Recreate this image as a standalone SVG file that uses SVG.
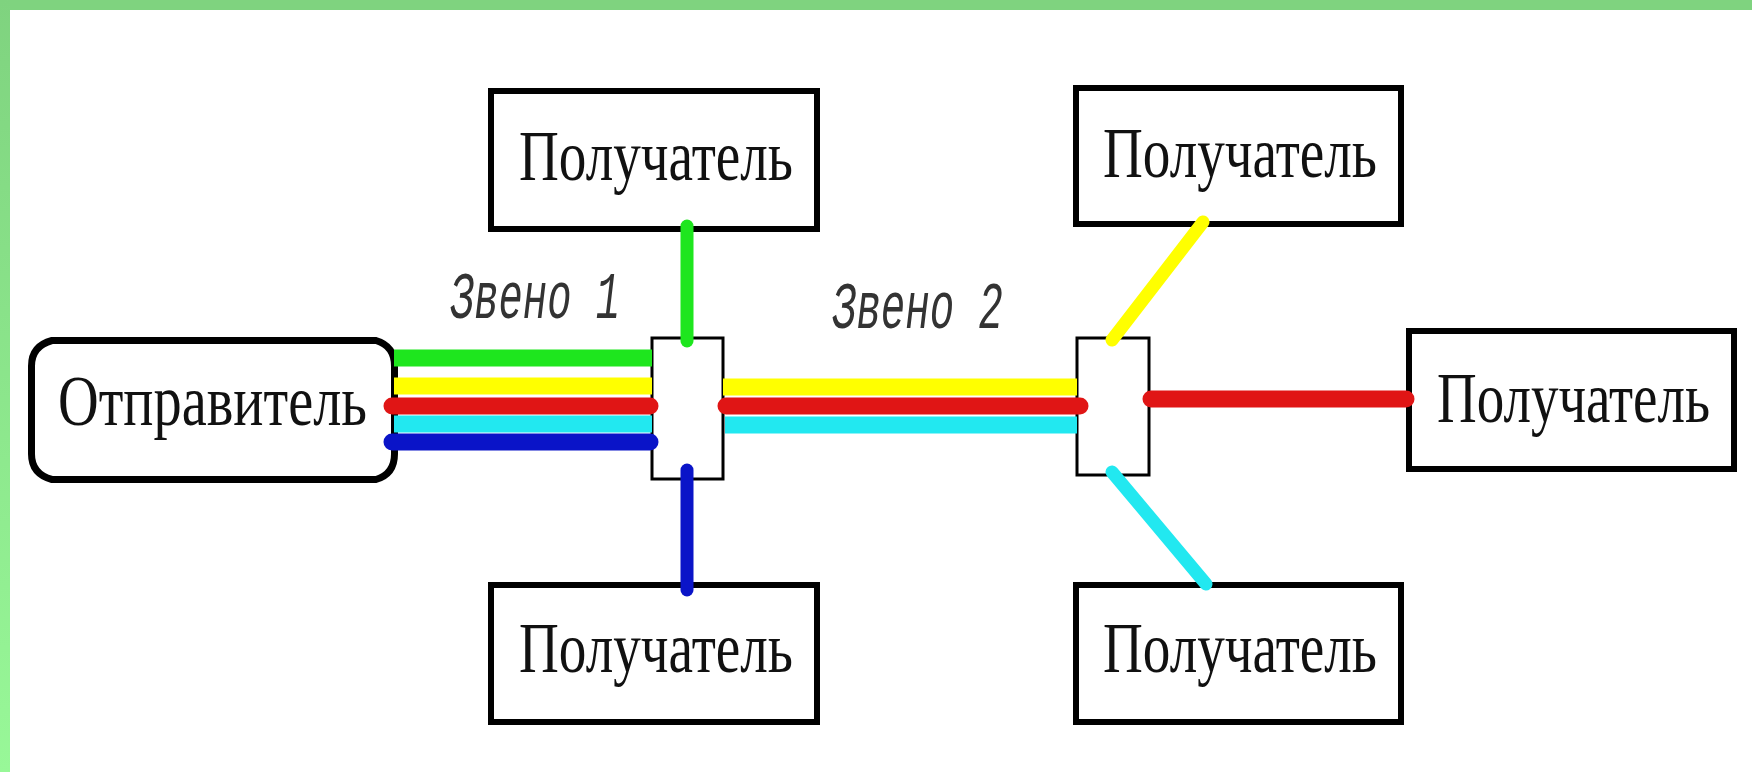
<svg xmlns="http://www.w3.org/2000/svg" width="1752" height="772" viewBox="0 0 1752 772">
<defs>
<linearGradient id="lband" x1="0" y1="0" x2="0" y2="1">
<stop offset="0" stop-color="#7fd37f"/>
<stop offset="1" stop-color="#98f898"/>
</linearGradient>
<style>
.box{fill:#fff;stroke:#000;stroke-width:6}
.hub{fill:#fff;stroke:#000;stroke-width:3}
.lbl{font-family:"Liberation Serif","Times New Roman",serif;font-size:54px;fill:#111}
.link{font-family:"Liberation Mono","Courier New",monospace;font-style:italic;font-size:48px;fill:#333}
.w{fill:none;stroke-width:17}
.v{fill:none;stroke-width:13;stroke-linecap:round}
</style>
</defs>
<rect x="0" y="0" width="1752" height="772" fill="#fff"/>
<rect x="0" y="0" width="1752" height="10" fill="#7fd37f"/>
<rect x="0" y="0" width="10" height="772" fill="url(#lband)"/>

<g id="sender">
<path d="M52,340.5 H376 Q394.5,346 394.5,366 V454 Q394.5,474 376,479.5 H52 Q31.5,474 31.5,454 V366 Q31.5,346 52,340.5 Z" fill="#fff" stroke="#000" stroke-width="7"/>
<text class="lbl" transform="translate(58,425) scale(1,1.333)" textLength="309" lengthAdjust="spacingAndGlyphs">Отправитель</text>
</g>

<g id="hub1"><rect class="hub" x="652" y="338" width="71" height="141"/></g>
<g id="hub2"><rect class="hub" x="1077" y="338" width="72" height="137"/></g>

<g id="recv-top-left">
<rect class="box" x="491" y="91" width="326" height="138"/>
<text class="lbl" transform="translate(519,180) scale(1,1.333)" textLength="274" lengthAdjust="spacingAndGlyphs">Получатель</text>
</g>
<g id="recv-bottom-left">
<rect class="box" x="491" y="585" width="326" height="137"/>
<text class="lbl" transform="translate(519,672) scale(1,1.333)" textLength="274" lengthAdjust="spacingAndGlyphs">Получатель</text>
</g>
<g id="recv-top-right">
<rect class="box" x="1076" y="88" width="325" height="136"/>
<text class="lbl" transform="translate(1103,177) scale(1,1.333)" textLength="274" lengthAdjust="spacingAndGlyphs">Получатель</text>
</g>
<g id="recv-right">
<rect class="box" x="1409" y="331" width="325" height="138"/>
<text class="lbl" transform="translate(1437,422) scale(1,1.333)" textLength="273" lengthAdjust="spacingAndGlyphs">Получатель</text>
</g>
<g id="recv-bottom-right">
<rect class="box" x="1076" y="585" width="325" height="137"/>
<text class="lbl" transform="translate(1103,672) scale(1,1.333)" textLength="274" lengthAdjust="spacingAndGlyphs">Получатель</text>
</g>

<g id="label-link1"><text class="link" transform="translate(450,318) scale(1,1.375)" textLength="170" lengthAdjust="spacingAndGlyphs">Звено 1</text></g>
<g id="label-link2"><text class="link" transform="translate(832,328) scale(1,1.375)" textLength="171" lengthAdjust="spacingAndGlyphs">Звено 2</text></g>

<g id="connectors">
<line class="w" x1="394" y1="358" x2="652" y2="358" stroke="#1ee61e" stroke-width="16"/>
<line class="w" x1="394" y1="386" x2="652" y2="386" stroke="#ffff00" stroke-width="19"/>
<line class="w" x1="392" y1="406" x2="650" y2="406" stroke="#e01515" stroke-width="16" stroke-linecap="round"/>
<line class="w" x1="394" y1="424" x2="652" y2="424" stroke="#22e8f0" stroke-width="17"/>
<line class="w" x1="392" y1="442" x2="650" y2="442" stroke="#0a14c8" stroke-width="16" stroke-linecap="round"/>

<line class="w" x1="723" y1="387" x2="1077" y2="387" stroke="#ffff00" stroke-width="19"/>
<line class="w" x1="726" y1="406" x2="1080" y2="406" stroke="#e01515" stroke-width="17" stroke-linecap="round"/>
<line class="w" x1="725" y1="425" x2="1077" y2="425" stroke="#22e8f0" stroke-width="17"/>

<line class="w" x1="1151" y1="399" x2="1406" y2="399" stroke="#e01515" stroke-width="16" stroke-linecap="round"/>

<line class="v" x1="687" y1="226" x2="687" y2="341" stroke="#1ee61e"/>
<line class="v" x1="687" y1="470" x2="687" y2="590" stroke="#0a14c8"/>
<line class="v" x1="1203" y1="222" x2="1112" y2="340" stroke="#ffff00" stroke-width="14"/>
<line class="v" x1="1112" y1="472" x2="1206" y2="584" stroke="#22e8f0" stroke-width="14"/>
</g>
</svg>
